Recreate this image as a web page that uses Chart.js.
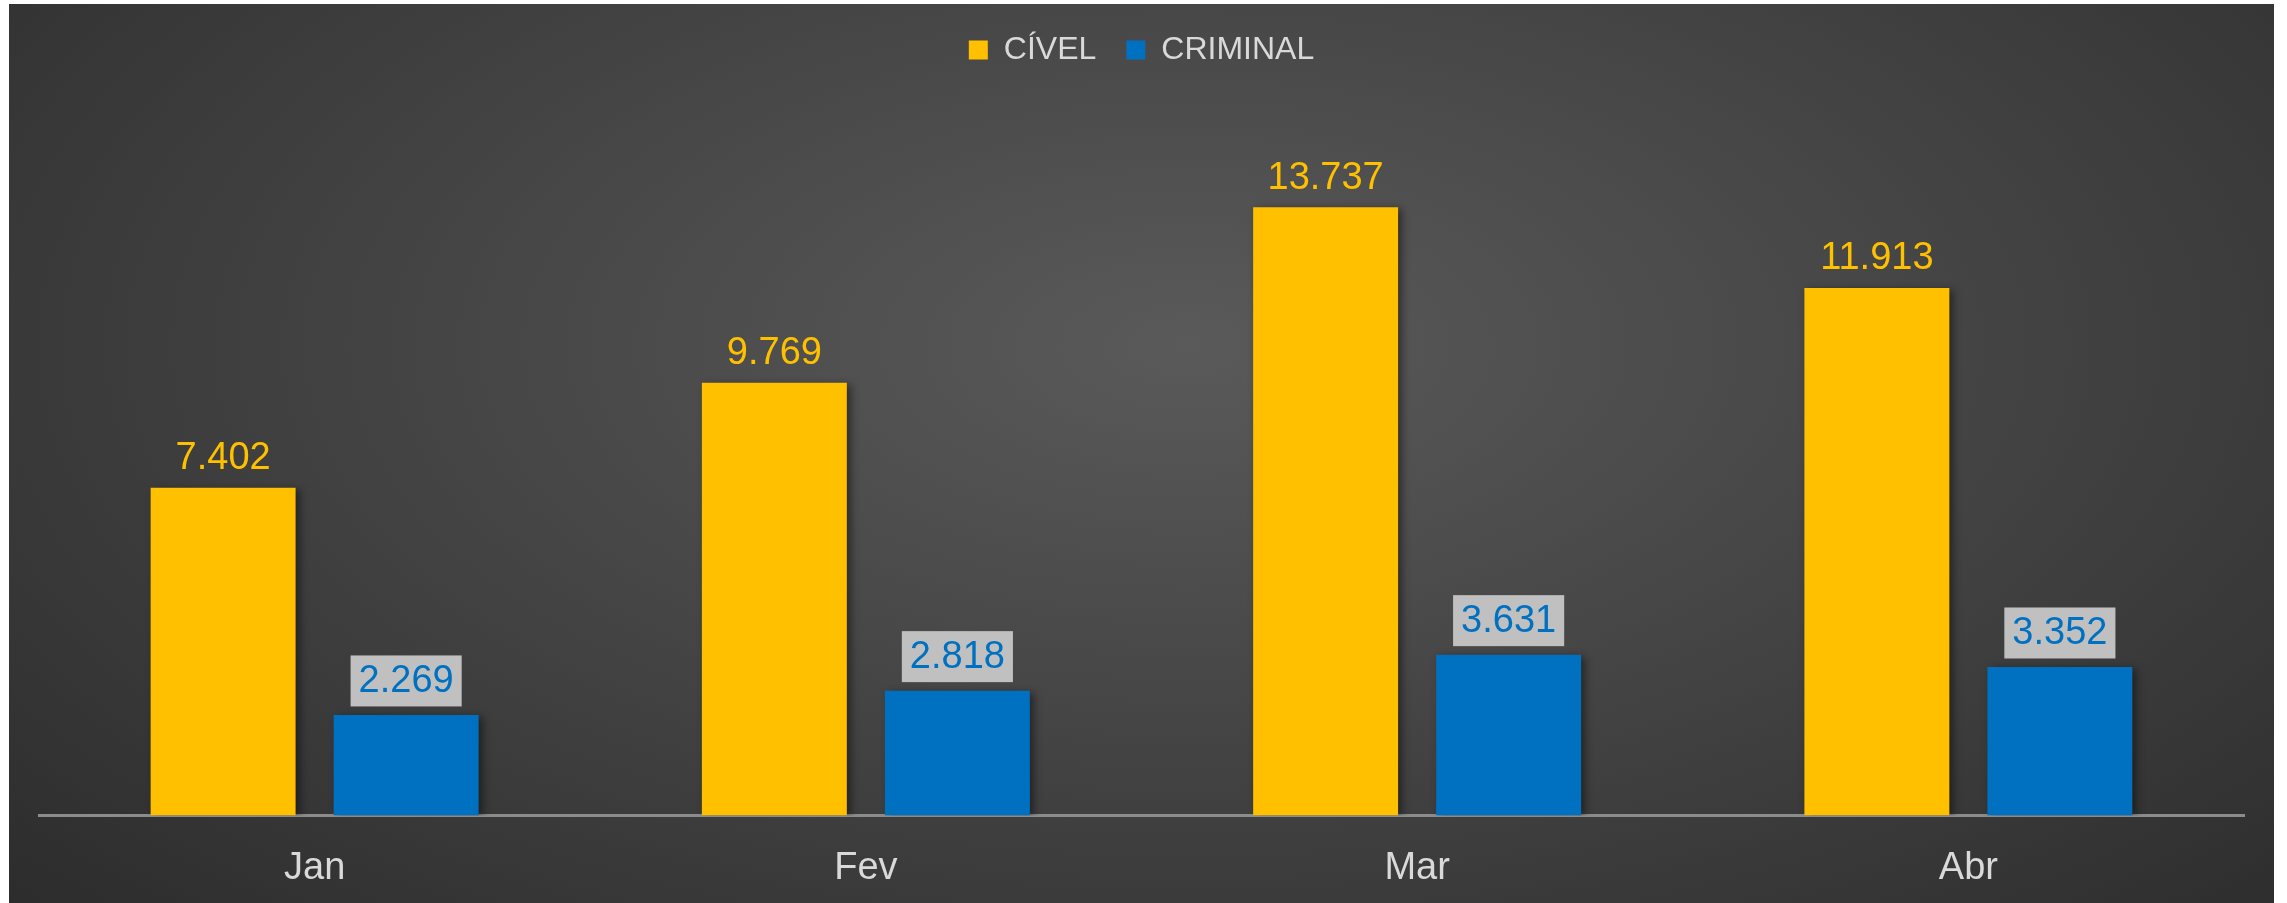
<!DOCTYPE html>
<html>
<head>
<meta charset="utf-8">
<script src="https://cdn.jsdelivr.net/npm/chart.js@4.4.0/dist/chart.umd.min.js"></script>
<style>
  html, body { margin: 0; padding: 0; background: #ffffff; }
  #wrap {
    position: absolute; left: 9px; top: 4px; width: 2265px; height: 899px; overflow: hidden;
    background: radial-gradient(ellipse 75% 95% at 52% 38%, #5a5a5a 0%, #474747 40%, #2a2a2a 100%);
  }
  canvas { display: block; }
</style>
</head>
<body>
<div id="wrap"><canvas id="c" width="2265" height="929"></canvas></div>
<script>
const categories = ['Jan', 'Fev', 'Mar', 'Abr'];
const civel = [7402, 9769, 13737, 11913];
const criminal = [2269, 2818, 3631, 3352];
const seriesNames = ['CÍVEL', 'CRIMINAL'];
const yMax = 16700;

const YELLOW = '#FFC000';
const BLUE = '#0070C0';
const FONT = '"Liberation Sans", Arial, sans-serif';

function fmt(v) {
  return String(v).replace(/\B(?=(\d{3})+(?!\d))/g, '.');
}

const shadowPlugin = {
  id: 'barShadow',
  beforeDatasetsDraw(chart) {
    const ctx = chart.ctx;
    ctx.save();
    ctx.shadowColor = 'rgba(0,0,0,0.45)';
    ctx.shadowBlur = 8;
    ctx.shadowOffsetX = 4;
    ctx.shadowOffsetY = 2;
  },
  afterDatasetsDraw(chart) {
    chart.ctx.restore();
  }
};

const labelPlugin = {
  id: 'valueLabels',
  afterDatasetsDraw(chart) {
    const ctx = chart.ctx;
    ctx.save();
    ctx.font = '38px ' + FONT;
    ctx.textAlign = 'center';
    ctx.textBaseline = 'middle';
    chart.data.datasets.forEach((ds, di) => {
      const meta = chart.getDatasetMeta(di);
      meta.data.forEach((el, i) => {
        const txt = fmt(ds.data[i]);
        if (di === 0) {
          ctx.fillStyle = YELLOW;
          ctx.fillText(txt, el.x, el.y - 29);
        } else {
          const w = ctx.measureText(txt).width + 16;
          const h = 51;
          const cy = el.y - 34;
          ctx.fillStyle = '#c0c0c0';
          ctx.fillRect(el.x - w / 2, cy - h / 2, w, h);
          ctx.fillStyle = BLUE;
          ctx.fillText(txt, el.x, cy + 1);
        }
      });
    });
    ctx.restore();
  }
};

new Chart(document.getElementById('c'), {
  type: 'bar',
  data: {
    labels: categories,
    datasets: [
      { label: seriesNames[0], data: civel, backgroundColor: YELLOW, borderWidth: 0 },
      { label: seriesNames[1], data: criminal, backgroundColor: BLUE, borderWidth: 0 }
    ]
  },
  options: {
    responsive: false,
    animation: false,
    events: [],
    datasets: { bar: { categoryPercentage: 0.664, barPercentage: 0.792 } },
    layout: { padding: { left: 30, right: 30, top: 0, bottom: 12 } },
    plugins: {
      legend: {
        display: true,
        position: 'top',
        labels: {
          color: '#d9d9d9',
          font: { family: FONT, size: 32 },
          boxWidth: 19,
          boxHeight: 19,
          padding: 30
        }
      },
      tooltip: { enabled: false }
    },
    scales: {
      x: {
        grid: { display: false, drawTicks: false },
        border: { display: true, color: '#8c8c8c', width: 3 },
        ticks: { color: '#d9d9d9', font: { family: FONT, size: 38 }, padding: 30 }
      },
      y: {
        display: false,
        min: 0,
        max: yMax
      }
    }
  },
  plugins: [shadowPlugin, labelPlugin]
});
</script>
</body>
</html>
